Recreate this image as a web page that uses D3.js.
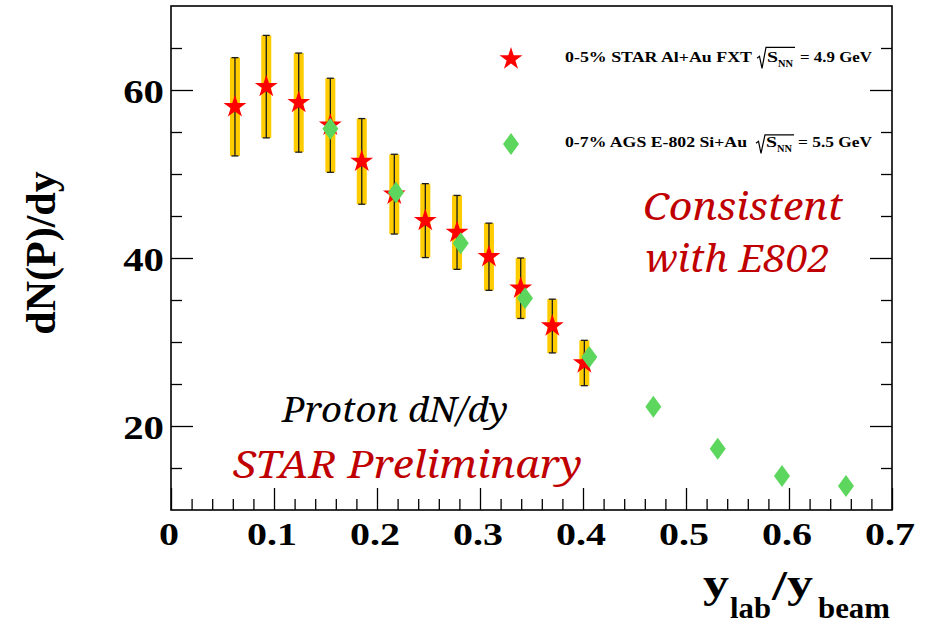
<!DOCTYPE html>
<html><head><meta charset="utf-8">
<script src="https://cdn.jsdelivr.net/npm/d3@7"></script>
<style>body{margin:0;background:#fff}svg{display:block}</style>
</head><body>
<svg id="c" width="927" height="625"></svg>
<script>
// ---- data ----
const starX   = [0.0621, 0.0925, 0.124, 0.1547, 0.1852, 0.2168, 0.2469, 0.2777, 0.3087, 0.3395, 0.3702, 0.4013];
const starY   = [58.0, 60.4, 58.5, 55.8, 51.5, 47.6, 44.45, 43.05, 40.15, 36.4, 31.9, 27.5];
const starErr = [5.85, 6.1, 5.9, 5.6, 5.1, 4.75, 4.4, 4.4, 4.0, 3.6, 3.2, 2.7];
const e802X   = [0.1547, 0.2184, 0.2813, 0.3437, 0.4061, 0.4683, 0.5308, 0.5932, 0.6553];
const e802Y   = [55.4, 47.8, 41.75, 35.2, 28.2, 22.3, 17.3, 14.05, 12.85];
const xTickValues = [0, 0.1, 0.2, 0.3, 0.4, 0.5, 0.6, 0.7];
const xTickLabels = ["0", "0.1", "0.2", "0.3", "0.4", "0.5", "0.6", "0.7"];
const yTickValues = [20, 40, 60];
const yTickLabels = ["20", "40", "60"];
const legendLabels = ["0-5% STAR Al+Au FXT", "0-7% AGS E-802 Si+Au"];
const legendEnergies = ["= 4.9 GeV", "= 5.5 GeV"];

// ---- layout ----
const L = 171, R = 892, T = 6, B = 510;
const x = d3.scaleLinear().domain([0, 0.7]).range([L, R]);
const y = d3.scaleLinear().domain([10, 70]).range([B, T]);
const svg = d3.select("#c");
const serif = "'Liberation Serif','Times New Roman',serif";
const ital = "'Noto Serif','DejaVu Serif',serif";
const red = "#c00000";

// ---- ticks ----
const xMinor = d3.range(0, 36).filter(i => i % 5 !== 0).map(i => i * 0.02);
const yMinor = d3.range(10, 71, 5).filter(v => v % 20 !== 0 && v > 10 && v < 70);
function clean(g){ g.select(".domain").remove(); g.selectAll("line").attr("stroke","#000").attr("stroke-width",1.3); }
svg.append("g").attr("transform",`translate(${L},0)`).call(d3.axisLeft(y).tickValues(yTickValues).tickSize(-22).tickFormat("")).call(clean);
svg.append("g").attr("transform",`translate(${L},0)`).call(d3.axisLeft(y).tickValues(yMinor).tickSize(-11).tickFormat("")).call(clean);
svg.append("g").attr("transform",`translate(${R},0)`).call(d3.axisRight(y).tickValues(yTickValues).tickSize(-22).tickFormat("")).call(clean);
svg.append("g").attr("transform",`translate(${R},0)`).call(d3.axisRight(y).tickValues(yMinor).tickSize(-11).tickFormat("")).call(clean);
svg.append("g").attr("transform",`translate(0,${B})`).call(d3.axisBottom(x).tickValues(xTickValues).tickSize(-22).tickFormat("")).call(clean);
svg.append("g").attr("transform",`translate(0,${B})`).call(d3.axisBottom(x).tickValues(xMinor).tickSize(-11).tickFormat("")).call(clean);

svg.append("rect").attr("x",L).attr("y",T).attr("width",R-L).attr("height",B-T)
  .attr("fill","none").attr("stroke","#000").attr("stroke-width",1.6);

// tick labels
svg.append("g").selectAll("text").data(yTickValues).join("text")
  .attr("transform", d => `translate(164,${y(d)+13}) scale(1.2,1)`)
  .attr("text-anchor","end").attr("font-family",serif).attr("font-weight","bold").attr("font-size",34)
  .text((d,i) => yTickLabels[i]);
svg.append("g").selectAll("text").data(xTickValues).join("text")
  .attr("transform", d => `translate(${x(d)-2},545) scale(1.25,1)`)
  .attr("text-anchor","middle").attr("font-family",serif).attr("font-weight","bold").attr("font-size",32)
  .text((d,i) => xTickLabels[i]);

// axis titles
svg.append("text").attr("transform","translate(55,253) rotate(-90)")
  .attr("text-anchor","middle").attr("font-family",serif).attr("font-weight","bold").attr("font-size",42)
  .text("dN(P)/dy");
const xt = svg.append("g").attr("font-family",serif).attr("font-weight","bold");
xt.append("text").attr("x",703).attr("y",597).attr("font-size",42).attr("textLength",26).attr("lengthAdjust","spacingAndGlyphs").text("y");
xt.append("text").attr("x",730).attr("y",618).attr("font-size",30).attr("textLength",41).attr("lengthAdjust","spacingAndGlyphs").text("lab");
xt.append("text").attr("x",772).attr("y",600).attr("font-size",42).attr("textLength",15).attr("lengthAdjust","spacingAndGlyphs").text("/");
xt.append("text").attr("x",787).attr("y",597).attr("font-size",42).attr("textLength",26).attr("lengthAdjust","spacingAndGlyphs").text("y");
xt.append("text").attr("x",818).attr("y",618).attr("font-size",30).attr("textLength",72).attr("lengthAdjust","spacingAndGlyphs").text("beam");

// ---- error bars (STAR) ----
const idx = d3.range(starX.length);
svg.append("g").selectAll("rect").data(idx).join("rect")
  .attr("x", i => x(starX[i]) - 5).attr("width", 10)
  .attr("y", i => y(starY[i] + starErr[i])).attr("height", i => y(starY[i] - starErr[i]) - y(starY[i] + starErr[i]))
  .attr("fill", "#ffcc00");
const eb = svg.append("g").attr("stroke","#1a1a1a").attr("stroke-width",1.3);
eb.selectAll("line.v").data(idx).join("line").attr("class","v")
  .attr("x1", i => x(starX[i])).attr("x2", i => x(starX[i]))
  .attr("y1", i => y(starY[i] + starErr[i])).attr("y2", i => y(starY[i] - starErr[i]));
eb.selectAll("line.t").data(idx).join("line").attr("class","t")
  .attr("x1", i => x(starX[i]) - 3.5).attr("x2", i => x(starX[i]) + 3.5)
  .attr("y1", i => y(starY[i] + starErr[i])).attr("y2", i => y(starY[i] + starErr[i]));
eb.selectAll("line.b").data(idx).join("line").attr("class","b")
  .attr("x1", i => x(starX[i]) - 3.5).attr("x2", i => x(starX[i]) + 3.5)
  .attr("y1", i => y(starY[i] - starErr[i])).attr("y2", i => y(starY[i] - starErr[i]));

// ---- markers ----
const starPath = d3.symbol(d3.symbolStar, 162)();
const diamondPath = "M0,-11L8,0L0,11L-8,0Z";
svg.append("g").selectAll("path").data(idx).join("path")
  .attr("d", starPath).attr("fill","#ff0000")
  .attr("transform", i => `translate(${x(starX[i])},${y(starY[i])})`);
svg.append("g").selectAll("path").data(d3.range(e802X.length)).join("path")
  .attr("d", diamondPath).attr("fill","#5cd65c")
  .attr("transform", i => `translate(${x(e802X[i])},${y(e802Y[i])})`);

// ---- legend ----
const lg = svg.append("g").attr("font-family",serif).attr("font-weight","bold");
lg.append("path").attr("d",starPath).attr("fill","#ff0000").attr("transform","translate(511,59)");
lg.append("path").attr("d",diamondPath).attr("fill","#5cd65c").attr("transform","translate(511,144)");
const rows = [
  {base:62.3, w:187, rx:757, sx:767, nx:778, ex:800, ew:72, top:-15},
  {base:147.3, w:182, rx:756, sx:766, nx:777, ex:798, ew:74, top:-12.5}
];
rows.forEach((r,i) => {
  lg.append("text").attr("x",565).attr("y",r.base).attr("font-size",15.5)
    .attr("textLength",r.w).attr("lengthAdjust","spacingAndGlyphs").text(legendLabels[i]);
  lg.append("path").attr("fill","none").attr("stroke","#000").attr("stroke-width",1.2)
    .attr("d",`M${r.rx},${r.base-4}L${r.rx+2.5},${r.base-6}L${r.rx+5},${r.base+6}L${r.rx+9},${r.base+r.top}L${r.nx+17},${r.base+r.top}`);
  lg.append("text").attr("x",r.sx).attr("y",r.base).attr("font-size",15.5)
    .attr("textLength",11).attr("lengthAdjust","spacingAndGlyphs").text("S");
  lg.append("text").attr("x",r.nx).attr("y",r.base+4.5).attr("font-size",9.5)
    .attr("textLength",15).attr("lengthAdjust","spacingAndGlyphs").text("NN");
  lg.append("text").attr("x",r.ex).attr("y",r.base).attr("font-size",15.5)
    .attr("textLength",r.ew).attr("lengthAdjust","spacingAndGlyphs").text(legendEnergies[i]);
});

// ---- annotations ----
const an = svg.append("g").attr("font-family",ital).attr("font-style","italic");
an.append("text").attr("x",643).attr("y",220).attr("font-size",38).attr("fill",red)
  .attr("textLength",200).attr("lengthAdjust","spacingAndGlyphs").text("Consistent");
an.append("text").attr("x",645).attr("y",272).attr("font-size",37.5).attr("fill",red)
  .attr("textLength",185).attr("lengthAdjust","spacingAndGlyphs").text("with E802");
an.append("text").attr("x",282).attr("y",422).attr("font-size",35).attr("fill","#000")
  .attr("textLength",226).attr("lengthAdjust","spacingAndGlyphs").text("Proton dN/dy");
an.append("text").attr("x",233).attr("y",478).attr("font-size",38).attr("fill",red)
  .attr("textLength",349).attr("lengthAdjust","spacingAndGlyphs").text("STAR Preliminary");
</script>
</body></html>
